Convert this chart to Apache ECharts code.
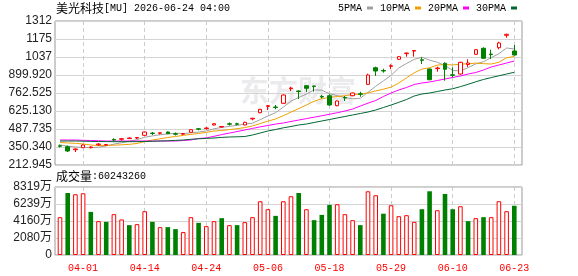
<!DOCTYPE html>
<html>
<head>
<meta charset="utf-8">
<script src="https://cdn.jsdelivr.net/npm/echarts@6/dist/echarts.min.js"></script>
<style>
  html, body { margin: 0; padding: 0; background: #fff; }
  #chart { width: 578px; height: 276px; }
</style>
</head>
<body>
<div id="chart"></div>
<script>
// 日K数据
const dates = ['03-27','03-30','03-31','04-01','04-02','04-06','04-07','04-08','04-09','04-10',
  '04-13','04-14','04-15','04-16','04-17','04-20','04-21','04-22','04-23','04-24',
  '04-27','04-28','04-29','04-30','05-01','05-04','05-05','05-06','05-07','05-08',
  '05-11','05-12','05-13','05-14','05-15','05-18','05-19','05-20','05-21','05-22',
  '05-26','05-27','05-28','05-29','06-01','06-02','06-03','06-04','06-05','06-08',
  '06-09','06-10','06-11','06-12','06-15','06-16','06-17','06-18','06-22','06-23'];
const tickDates = ['04-01','04-14','04-24','05-06','05-18','05-29','06-10','06-23'];

const open = [359.5, 352.6, 329.7, 345.0, 345.0, 367.9, 364.8, 407.6, 409.1, 414.5,
  418.3, 439.6, 456.4, 454.9, 464.8, 451.1, 448.0, 462.5, 489.3, 490.8,
  518.3, 503.0, 527.4, 527.4, 518.3, 564.8, 612.2, 660.2, 655.7, 683.9,
  796.1, 777.8, 818.2, 815.9, 735.8, 741.9, 665.6, 728.2, 741.9, 756.4,
  828.9, 955.6, 934.3, 966.3, 1019.7, 1063.3, 1082.3, 1015.9, 945.7, 948.7,
  989.2, 901.4, 907.5, 980.1, 1057.9, 1103.7, 1060.2, 1108.3, 1202.9, 1083.1];
const close = [356.4, 319.8, 335.1, 365.6, 350.3, 373.2, 369.4, 403.8, 413.7, 419.0,
  422.9, 464.8, 453.4, 458.7, 451.9, 448.0, 452.6, 482.4, 486.2, 495.4,
  528.2, 506.8, 524.4, 523.6, 538.9, 569.4, 638.1, 665.6, 651.8, 747.3,
  800.7, 774.0, 798.4, 811.4, 732.0, 670.9, 701.5, 724.4, 762.5, 752.6,
  899.9, 930.4, 930.4, 970.9, 1039.6, 1067.8, 1086.9, 1012.1, 864.0, 953.3,
  943.4, 897.6, 996.9, 991.5, 1093.0, 1027.4, 1056.4, 1144.2, 1210.6, 1052.6];
const low = [346.5, 312.2, 312.2, 342.7, 340.4, 358.0, 361.8, 396.1, 398.4, 411.4,
  411.4, 436.6, 441.9, 445.8, 449.6, 438.1, 441.9, 459.5, 477.8, 483.9,
  514.5, 499.2, 514.5, 516.0, 516.0, 554.1, 607.6, 632.8, 638.1, 680.9,
  777.8, 716.7, 770.2, 772.4, 722.1, 665.6, 661.7, 701.5, 738.1, 734.3,
  823.6, 892.3, 917.5, 943.4, 1015.9, 1039.6, 1039.6, 983.9, 860.2, 925.1,
  856.4, 882.4, 903.7, 961.0, 1054.1, 1023.6, 1022.0, 1096.1, 1184.6, 1047.2];
const high = [369.4, 361.8, 338.9, 369.4, 355.7, 378.6, 373.2, 416.7, 417.5, 422.9,
  426.7, 468.6, 464.8, 461.0, 468.6, 461.0, 457.2, 485.4, 495.4, 500.7,
  532.0, 510.6, 537.3, 535.8, 542.7, 573.2, 641.9, 668.6, 670.9, 751.1,
  810.6, 783.1, 822.1, 818.2, 747.3, 752.6, 705.3, 739.6, 766.3, 772.4,
  909.8, 963.3, 948.0, 981.6, 1043.4, 1070.1, 1089.9, 1035.0, 949.5, 963.3,
  996.9, 958.7, 1000.7, 1019.7, 1096.8, 1111.4, 1093.0, 1154.0, 1215.2, 1128.9];

const ma5 = [366, 357, 350, 348, 345.4, 348.8, 358.7, 372.5, 382.1, 395.8,
  405.8, 424.8, 434.8, 443.8, 450.3, 455.4, 452.9, 458.7, 464.2, 472.9,
  489.0, 499.8, 508.2, 515.7, 524.4, 532.6, 558.9, 587.1, 612.8, 654.4,
  700.7, 727.9, 754.4, 786.4, 783.3, 757.3, 742.8, 728.0, 718.3, 722.4,
  768.2, 814.0, 855.2, 896.8, 954.2, 987.8, 1019.1, 1035.5, 1014.1, 996.8,
  971.9, 934.1, 931.0, 956.5, 984.5, 1001.3, 1033.0, 1062.5, 1106.3, 1098.2];
const ma10 = [384.7, 380.9, 378.6, 373.2, 365.6, 361.8, 361.8, 364.1, 367.1, 370.6,
  377.3, 391.8, 403.7, 413.0, 423.1, 430.6, 438.9, 446.8, 454.0, 461.6,
  472.2, 476.4, 483.5, 490.0, 498.7, 510.8, 529.4, 547.7, 564.3, 589.4,
  616.7, 643.4, 670.8, 699.6, 718.9, 729.0, 735.4, 741.2, 752.4, 752.9,
  762.8, 778.4, 791.6, 807.6, 838.3, 878.0, 916.6, 945.4, 955.5, 975.5,
  979.9, 976.6, 983.3, 985.3, 990.7, 986.6, 983.6, 996.8, 1031.4, 1041.4];
const ma20 = [403.8, 403.8, 403.8, 401.5, 400.0, 398.4, 396.1, 396.1, 396.1, 396.1,
  396.1, 396.1, 396.1, 396.1, 396.1, 396.1, 400.0, 403.8, 415.2, 420.0,
  432.0, 445.0, 457.0, 468.0, 480.0, 492.0, 504.0, 515.0, 525.0, 534.0,
  545.0, 556.0, 567.0, 578.0, 589.0, 600.0, 612.0, 625.0, 640.0, 663.0,
  685.0, 705.0, 735.8, 762.5, 785.4, 804.5, 827.4, 838.9, 846.5, 857.9,
  869.4, 880.8, 892.3, 907.5, 919.0, 938.1, 961.0, 976.2, 991.5, 1006.8];
const ma30 = [396.1, 396.1, 396.1, 394.6, 393.1, 392.3, 391.6, 390.8, 390.8, 390.8,
  391.6, 392.3, 393.8, 396.1, 397.7, 400.7, 403.8, 409.1, 412.9, 416.0,
  419.0, 423.6, 426.7, 428.2, 430.5, 441.9, 457.2, 472.5, 483.9, 496.9,
  506.8, 518.3, 525.9, 537.3, 548.8, 560.2, 571.7, 583.1, 594.6, 606.1,
  617.5, 632.8, 651.8, 670.9, 691.5, 712.9, 739.6, 754.9, 762.5, 774.0,
  785.4, 795.0, 811.0, 829.0, 848.0, 866.0, 880.0, 894.0, 907.5, 920.5];

// 成交量（股）与涨跌（1 = 红）
const vol = [46290000, 75880000, 74300000, 75520000, 52740000, 41410000, 40560000, 49940000, 43480000, 36540000,
  37760000, 53590000, 40560000, 34100000, 34100000, 31670000, 28010000, 46290000, 39340000, 35320000,
  41410000, 45070000, 36540000, 36540000, 40190000, 46290000, 65770000, 56030000, 47870000, 65770000,
  71860000, 75880000, 56030000, 42630000, 49090000, 61260000, 62120000, 49940000, 42630000, 36540000,
  77950000, 73080000, 50500000, 60900000, 47500000, 48720000, 40560000, 56030000, 77950000, 54810000,
  74660000, 56030000, 59680000, 41410000, 45070000, 46290000, 46290000, 65770000, 53590000, 60243260];
const volUp = [1,0,1,1,0,1,0,1,1,0, 1,1,0,1,0,0,1,1,0,1, 1,0,1,0,1,1,1,1,0,1,
  1,0,1,0,0,0,1,1,1,0, 1,1,0,1,1,1,1,0,0,1, 0,0,1,0,1,0,1,1,1,0];

const priceTicks = [212.945, 350.340, 487.735, 625.130, 762.525, 899.920, 1037.315, 1174.710, 1312.105];
const volTicks = [0, 20797500, 41595000, 62392500, 83190000];

const RED = '#ff0000', GREEN = '#008000';
const tickIdx = tickDates.map(d => dates.indexOf(d));

const chart = echarts.init(document.getElementById('chart'));

const candles = dates.map((d, i) => [i, open[i], close[i], low[i], high[i]]);
const volData = dates.map((d, i) => ({
  value: [i, vol[i]],
  itemStyle: volUp[i]
    ? { color: '#fff', borderColor: RED, borderWidth: 1 }
    : { color: GREEN }
}));

function maLine(name, arr, color) {
  return {
    name, type: 'line', xAxisIndex: 0, yAxisIndex: 0,
    data: arr.map((v, i) => [i, v]),
    symbol: 'none', showSymbol: false, silent: true, z: 3,
    lineStyle: { width: 1, color }, itemStyle: { color }
  };
}

const monoFont = '"Liberation Mono", monospace';
const cjkFont = '"Noto Sans CJK SC"';
const titleRich = {
  a: { fontFamily: cjkFont, fontSize: 12, fontWeight: 'normal', color: '#000' },
  b: { fontFamily: monoFont, fontSize: 10, fontWeight: 'normal', color: '#000' }
};

chart.setOption({
  animation: false,
  title: [
    {
      text: '{a|美光科技}{b|[MU] 2026-06-24 04:00}',
      left: 56, top: 2, padding: 0,
      textStyle: { fontWeight: 'normal', rich: titleRich }
    },
    {
      text: '{a|成交量}{b|:' + vol[vol.length - 1] + '}',
      left: 56, top: 170, padding: 0,
      textStyle: { fontWeight: 'normal', rich: titleRich }
    }
  ],
  legend: {
    data: ['5PMA', '10PMA', '20PMA', '30PMA'],
    left: 338, top: 3, padding: 0,
    align: 'right', icon: 'rect',
    itemWidth: 6, itemHeight: 3, itemGap: 7,
    selectedMode: false,
    textStyle: { fontFamily: monoFont, fontSize: 10, color: '#000' }
  },
  graphic: [{
    type: 'text', left: 240, top: 76, z: 0, silent: true,
    style: { text: '东方财富', font: 'bold 29px "Noto Sans CJK SC"', fill: '#ebebee' }
  }],
  grid: [
    { left: 55, top: 21, width: 467, height: 144, show: true, borderColor: '#999', borderWidth: 1 },
    { left: 55, top: 187, width: 467, height: 68, show: true, borderColor: '#999', borderWidth: 1 }
  ],
  xAxis: [
    {
      type: 'value', gridIndex: 0, min: -0.65, max: 60,
      axisLine: { show: false },
      axisTick: { show: false, customValues: tickIdx },
      axisLabel: { show: false, customValues: tickIdx },
      splitLine: { show: true, lineStyle: { color: '#cccccc', type: [4, 3] } }
    },
    {
      type: 'value', gridIndex: 1, min: -0.65, max: 60,
      axisLine: { show: false },
      axisTick: { show: false, customValues: tickIdx },
      axisLabel: {
        customValues: tickIdx, formatter: v => dates[v],
        color: RED, fontFamily: monoFont, fontSize: 10, margin: 8
      },
      splitLine: { show: true, lineStyle: { color: '#cccccc', type: [4, 3] } }
    }
  ],
  yAxis: [
    {
      type: 'value', gridIndex: 0,
      min: priceTicks[0], max: priceTicks[priceTicks.length - 1],
      axisLine: { show: false },
      axisTick: { show: false, customValues: priceTicks },
      axisLabel: {
        customValues: priceTicks,
        formatter: v => v >= 1000 ? String(Math.round(v)) : v.toFixed(3),
        color: '#222', fontFamily: '"Liberation Sans", Arial', fontSize: 12, margin: 3
      },
      splitLine: { lineStyle: { color: '#d4d4d4' } }
    },
    {
      type: 'value', gridIndex: 1,
      min: volTicks[0], max: volTicks[volTicks.length - 1],
      axisLine: { show: false },
      axisTick: { show: false, customValues: volTicks },
      axisLabel: {
        customValues: volTicks,
        formatter: v => v === 0 ? '0' : Math.round(v / 1e4) + '万',
        color: '#222', fontFamily: '"Liberation Sans", "Noto Sans CJK SC"', fontSize: 12, margin: 3
      },
      splitLine: { lineStyle: { color: '#d4d4d4' } }
    }
  ],
  series: [
    {
      name: 'K', type: 'candlestick', xAxisIndex: 0, yAxisIndex: 0,
      data: candles, barWidth: 4, z: 4,
      itemStyle: {
        color: '#fff', color0: GREEN,
        borderColor: RED, borderColor0: GREEN, borderWidth: 1
      }
    },
    maLine('5PMA', ma5, '#a0a0a0'),
    maLine('10PMA', ma10, '#f0a000'),
    maLine('20PMA', ma20, '#ff00ff'),
    maLine('30PMA', ma30, '#006633'),
    {
      name: '成交量', type: 'bar', xAxisIndex: 1, yAxisIndex: 1,
      data: volData, barWidth: 4.6
    }
  ]
});
</script>
</body>
</html>
